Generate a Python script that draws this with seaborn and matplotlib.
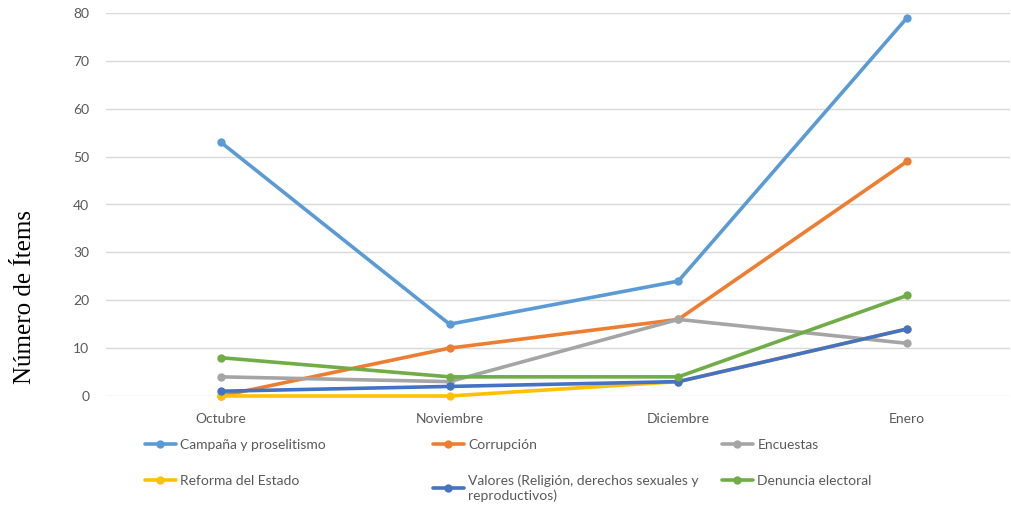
import matplotlib
matplotlib.use("Agg")
import matplotlib.pyplot as plt
import pandas as pd
import seaborn as sns

MONTHS = ["Octubre", "Noviembre", "Diciembre", "Enero"]
SERIES = [
    "Campaña y proselitismo",
    "Corrupción",
    "Encuestas",
    "Reforma del Estado",
    "Valores (Religión, derechos sexuales y\nreproductivos)",
    "Denuncia electoral",
]
campana = [53, 15, 24, 79]
corrupcion = [0, 10, 16, 49]
encuestas = [4, 3, 16, 11]
reforma = [0, 0, 3, 14]
valores = [1, 2, 3, 14]
denuncia = [8, 4, 4, 21]
COLORS = ["#5B9BD5", "#ED7D31", "#A5A5A5", "#FFC000", "#4472C4", "#70AD47"]

values = [campana, corrupcion, encuestas, reforma, valores, denuncia]
df = pd.DataFrame(
    [(s, m, v) for s, vals in zip(SERIES, values) for m, v in zip(MONTHS, vals)],
    columns=["serie", "mes", "items"],
)

sns.set_theme(style="white")
plt.rcParams["font.family"] = ["Lato", "DejaVu Sans"]

fig = plt.figure(figsize=(10.11, 5.07), dpi=100)
ax = fig.add_axes([106 / 1011, 111 / 507, 904 / 1011, 383 / 507])

sns.lineplot(data=df, x="mes", y="items", hue="serie", hue_order=SERIES,
             palette=COLORS, marker="o", markersize=6, markeredgewidth=0,
             linewidth=2.6, sort=False, ax=ax)
for ln in ax.lines:
    ln.set_clip_on(False)

ax.set_ylim(0, 80)
ax.set_xlim(-0.502, 3.45)
ax.set_yticks(range(0, 81, 10))
ax.yaxis.grid(True, color="#D9D9D9", linewidth=1)
ax.set_axisbelow(True)
for sp in ax.spines.values():
    sp.set_visible(False)
ax.tick_params(axis="both", length=0, labelsize=10, colors="#595959", pad=12)
ax.set_xlabel("")
ax.set_ylabel("Número de Ítems", family=["Liberation Serif"], fontsize=18,
              color="black")
ax.yaxis.set_label_coords(-0.077, 0.258)

handles, labels = ax.get_legend_handles_labels()
ax.get_legend().remove()
col_x = [145, 433, 722]
for c, x in enumerate(col_x):
    idx = [c, c + 3]
    fig.legend([handles[i] for i in idx], [labels[i] for i in idx],
               loc="upper left", bbox_to_anchor=(x / 1011, 1 - 439 / 507),
               frameon=False, fontsize=10, handlelength=2.2, handletextpad=0.35,
               labelspacing=1.7, borderpad=0, borderaxespad=0,
               labelcolor="#595959")

fig.savefig("out.png", dpi=100)
